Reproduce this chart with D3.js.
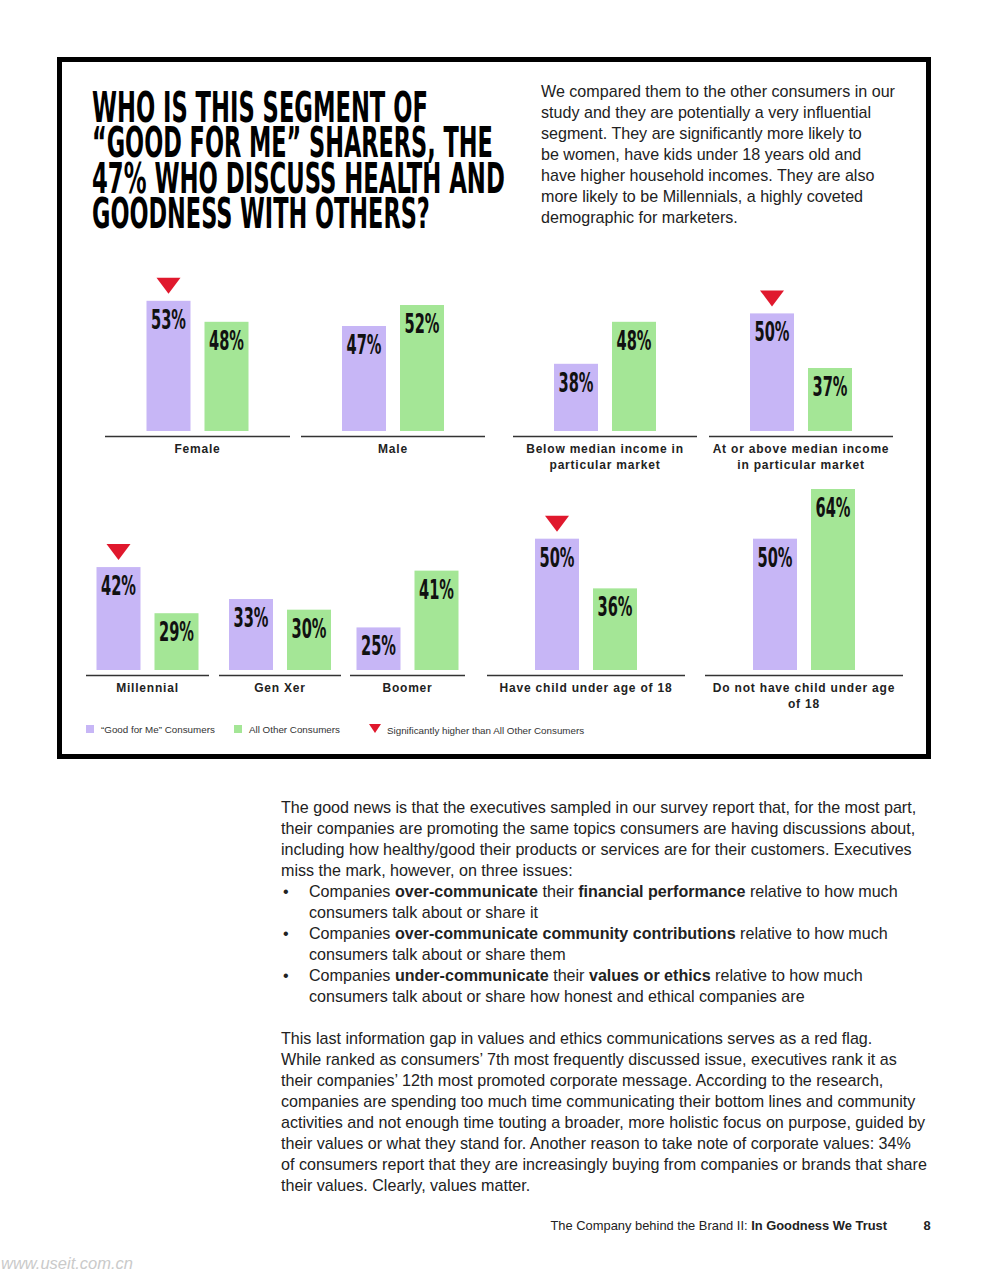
<!DOCTYPE html>
<html>
<head>
<meta charset="utf-8">
<script src="https://cdn.jsdelivr.net/npm/d3@7"></script>
<style>
  body { margin: 0; background: #fff; }
  svg text { font-family: "Liberation Sans", Arial, sans-serif; }
</style>
</head>
<body>
<div id="page"></div>
<script>
// ---- data ----
var categories = ["Female", "Male", "Below median income in particular market",
    "At or above median income in particular market", "Millennial", "Gen Xer",
    "Boomer", "Have child under age of 18", "Do not have child under age of 18"];
var goodForMe = [53, 47, 38, 50, 42, 33, 25, 50, 50];
var allOther = [48, 52, 48, 37, 29, 30, 41, 36, 64];
var significant = [true, false, false, true, true, false, false, true, false];
var seriesNames = ["\u201CGood for Me\u201D Consumers", "All Other Consumers"];
var categoryLines = [["Female"], ["Male"], ["Below median income in", "particular market"],
    ["At or above median income", "in particular market"], ["Millennial"], ["Gen Xer"],
    ["Boomer"], ["Have child under age of 18"], ["Do not have child under age", "of 18"]];
var titleLines = ["WHO IS THIS SEGMENT OF", "\u201CGOOD FOR ME\u201D SHARERS, THE",
    "47% WHO DISCUSS HEALTH AND", "GOODNESS WITH OTHERS?"];
var introLines = ["We compared them to the other consumers in our",
    "study and they are potentially a very influential",
    "segment. They are significantly more likely to",
    "be women, have kids under 18 years old and",
    "have higher household incomes. They are also",
    "more likely to be Millennials, a highly coveted",
    "demographic for marketers."];
var bodyLines = [
    "The good news is that the executives sampled in our survey report that, for the most part,",
    "their companies are promoting the same topics consumers are having discussions about,",
    "including how healthy/good their products or services are for their customers. Executives",
    "miss the mark, however, on three issues:",
    "\u2022Companies **over-communicate** their **financial performance** relative to how much",
    ">consumers talk about or share it",
    "\u2022Companies **over-communicate community contributions** relative to how much",
    ">consumers talk about or share them",
    "\u2022Companies **under-communicate** their **values or ethics** relative to how much",
    ">consumers talk about or share how honest and ethical companies are",
    "",
    "This last information gap in values and ethics communications serves as a red flag.",
    "While ranked as consumers\u2019 7th most frequently discussed issue, executives rank it as",
    "their companies\u2019 12th most promoted corporate message. According to the research,",
    "companies are spending too much time communicating their bottom lines and community",
    "activities and not enough time touting a broader, more holistic focus on purpose, guided by",
    "their values or what they stand for. Another reason to take note of corporate values: 34%",
    "of consumers report that they are increasingly buying from companies or brands that share",
    "their values. Clearly, values matter."];

// ---- layout ----
var W = 989, H = 1280;
var purple = "#c7b6f6", green = "#a4e696", red = "#e0182d";
var condensed = "'Liberation Sans Narrow', 'DejaVu Sans Condensed', sans-serif";
var panelExtents = [[105, 290], [301, 485], [513, 697], [709, 893],
    [86, 209], [219, 341], [350, 465], [487, 685], [705, 903]];
var panelRow = [0, 0, 0, 0, 1, 1, 1, 1, 1];
var baseY = [431, 670];
var yScales = [
    d3.scaleLinear().domain([22, 55]).range([431, 292.4]),
    d3.scaleLinear().domain([13, 64]).range([670, 489])
];

var svg = d3.select("#page").append("svg")
    .attr("width", W)
    .attr("height", H);

// frame
svg.append("rect")
    .attr("x", 59.5).attr("y", 59.5)
    .attr("width", 869).attr("height", 697)
    .attr("fill", "none")
    .attr("stroke", "#000")
    .attr("stroke-width", 5);

// title: squeeze each line to its width with a transform
var titleWidths = [336, 401, 413, 338];
svg.selectAll("text.title")
    .data(titleLines)
    .enter()
    .append("text")
    .attr("class", "title")
    .style("font-family", condensed)
    .style("font-weight", "bold")
    .style("font-size", "42px")
    .attr("fill", "#000")
    .text(function(d) { return d; })
    .each(function(d, i) {
        var w = this.getComputedTextLength();
        d3.select(this).attr("transform",
            "translate(92," + (122 + i * 35.3) + ") scale(" + (titleWidths[i] / w) + ",1)");
    });

svg.selectAll("text.intro")
    .data(introLines)
    .enter()
    .append("text")
    .attr("class", "intro")
    .attr("x", 541)
    .attr("y", function(d, i) { return 97 + i * 21; })
    .style("font-size", "16.1px")
    .attr("fill", "#222")
    .text(function(d) { return d; });

// panels
var panels = categories.map(function(c, i) {
    return { name: c, i: i, row: panelRow[i], x0: panelExtents[i][0], x1: panelExtents[i][1],
        values: [goodForMe[i], allOther[i]], sig: significant[i], lines: categoryLines[i] };
});

var pg = svg.selectAll("g.panel")
    .data(panels)
    .enter()
    .append("g")
    .attr("class", "panel");

pg.each(function(p) {
    var g = d3.select(this);
    var cx = (p.x0 + p.x1) / 2;
    var x = d3.scaleBand().domain([0, 1]).range([cx - 51, cx + 51]).paddingInner(0.2414);
    var y = yScales[p.row];
    var base = baseY[p.row];

    g.selectAll("rect.bar")
        .data(p.values)
        .enter()
        .append("rect")
        .attr("class", "bar")
        .attr("x", function(d, j) { return x(j); })
        .attr("y", function(d) { return y(d); })
        .attr("width", x.bandwidth())
        .attr("height", function(d) { return base - y(d); })
        .attr("fill", function(d, j) { return j === 0 ? purple : green; });

    g.selectAll("text.val")
        .data(p.values)
        .enter()
        .append("text")
        .attr("class", "val")
        .style("font-family", condensed)
        .style("font-weight", "bold")
        .style("font-size", "27px")
        .attr("fill", "#111")
        .text(function(d) { return d + "%"; })
        .each(function(d, j) {
            var w = this.getComputedTextLength();
            var tx = x(j) + x.bandwidth() / 2 - 17.5;
            d3.select(this).attr("transform",
                "translate(" + tx + "," + (y(d) + 28) + ") scale(" + (35 / w) + ",1)");
        });

    if (p.sig) {
        var tx = x(0) + x.bandwidth() / 2, ty = y(p.values[0]) - 7;
        g.append("path")
            .attr("d", d3.line()([[tx - 12, ty - 16], [tx + 12, ty - 16], [tx, ty]]) + "Z")
            .attr("fill", red);
    }

    g.append("line")
        .attr("x1", p.x0).attr("x2", p.x1)
        .attr("y1", base + 5.5).attr("y2", base + 5.5)
        .attr("stroke", "#333")
        .attr("stroke-width", 1.3);

    g.selectAll("text.cat")
        .data(p.lines)
        .enter()
        .append("text")
        .attr("class", "cat")
        .attr("x", cx)
        .attr("y", function(d, k) { return base + 22 + k * 16; })
        .attr("text-anchor", "middle")
        .style("font-size", "12px")
        .style("font-weight", "bold")
        .style("letter-spacing", "0.8px")
        .attr("fill", "#222")
        .text(function(d) { return d; });
});

// legend
var legend = svg.append("g");
legend.append("rect").attr("x", 86).attr("y", 725).attr("width", 8).attr("height", 8).attr("fill", purple);
legend.append("text").attr("x", 101).attr("y", 733).text(seriesNames[0]);
legend.append("rect").attr("x", 234).attr("y", 725).attr("width", 8).attr("height", 8).attr("fill", green);
legend.append("text").attr("x", 249).attr("y", 733).text(seriesNames[1]);
legend.append("path")
    .attr("d", d3.line()([[369, 724], [381, 724], [375, 733]]) + "Z")
    .attr("fill", red);
legend.append("text").attr("x", 387).attr("y", 734).text("Significantly higher than All Other Consumers");
legend.selectAll("text").style("font-size", "9.8px").attr("fill", "#333");

// body text
function addRich(t, s) {
    s.split("**").forEach(function(part, k) {
        if (!part) return;
        t.append("tspan").style("font-weight", k % 2 ? "bold" : "normal").text(part);
    });
}

bodyLines.forEach(function(line, i) {
    if (!line) return;
    var yy = 813 + i * 21;
    var x0 = 281, s = line;
    if (line[0] === "\u2022") {
        svg.append("text").attr("x", 283).attr("y", yy).style("font-size", "16.1px").attr("fill", "#222").text("\u2022");
        x0 = 309; s = line.slice(1);
    } else if (line[0] === ">") {
        x0 = 309; s = line.slice(1);
    }
    var t = svg.append("text").attr("x", x0).attr("y", yy).style("font-size", "16.1px").attr("fill", "#222");
    addRich(t, s);
});

// footer
var foot = svg.append("text")
    .attr("x", 887).attr("y", 1230)
    .attr("text-anchor", "end")
    .style("font-size", "12.9px")
    .attr("fill", "#222");
addRich(foot, "The Company behind the Brand II: **In Goodness We Trust**");
svg.append("text")
    .attr("x", 927).attr("y", 1230)
    .attr("text-anchor", "middle")
    .style("font-size", "12.9px")
    .style("font-weight", "bold")
    .attr("fill", "#222")
    .text("8");

// watermark
svg.append("text")
    .attr("x", 1).attr("y", 1269)
    .style("font-size", "16.5px")
    .style("font-style", "italic")
    .attr("fill", "#cacaca")
    .text("www.useit.com.cn");
</script>
</body>
</html>
